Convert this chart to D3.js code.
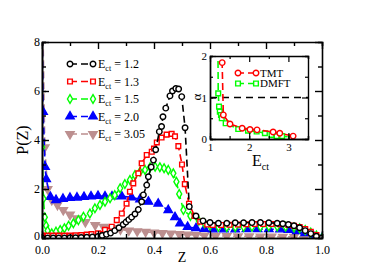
<!DOCTYPE html>
<html>
<head>
<meta charset="utf-8">
<script src="https://cdn.jsdelivr.net/npm/d3@7"></script>
<style>
body { margin: 0; background: #fff; }
svg text { font-family: "Liberation Serif", "DejaVu Serif", serif; }
</style>
</head>
<body>
<div id="chart"></div>
<script>
// main panel: P(Z) for several E_ct
var zBlack = [0.0, 0.02, 0.04, 0.06, 0.08, 0.10, 0.12, 0.14, 0.16, 0.18, 0.20, 0.215, 0.23, 0.245, 0.26, 0.275, 0.29, 0.30, 0.31, 0.32, 0.332, 0.344, 0.356, 0.362, 0.374, 0.38, 0.39, 0.398, 0.406, 0.419, 0.427, 0.432, 0.442, 0.457, 0.466, 0.478, 0.488, 0.499, 0.511, 0.526, 0.55, 0.575, 0.6, 0.63, 0.66, 0.69, 0.72, 0.75, 0.78, 0.81, 0.84, 0.86, 0.88, 0.90, 0.92, 0.94, 0.96, 0.98, 1.0];
var pBlack = [0.0, 0.0, 0.0, 0.0, 0.0, 0.01, 0.01, 0.02, 0.03, 0.04, 0.06, 0.1, 0.15, 0.2, 0.3, 0.42, 0.55, 0.65, 0.75, 0.85, 0.98, 1.16, 1.48, 1.76, 2.16, 2.5, 2.9, 3.18, 3.6, 4.34, 4.55, 4.95, 5.3, 5.8, 6.0, 6.1, 6.08, 5.77, 4.5, 1.28, 0.9, 0.7, 0.63, 0.6, 0.6, 0.62, 0.62, 0.63, 0.63, 0.62, 0.6, 0.58, 0.55, 0.5, 0.42, 0.3, 0.18, 0.07, 0.0];

var zRed = [0.0, 0.02, 0.04, 0.06, 0.08, 0.10, 0.12, 0.14, 0.16, 0.177, 0.2, 0.225, 0.249, 0.267, 0.285, 0.302, 0.314, 0.326, 0.344, 0.356, 0.374, 0.392, 0.40, 0.41, 0.427, 0.445, 0.463, 0.475, 0.487, 0.50, 0.51, 0.525, 0.545, 0.565, 0.59, 0.61, 0.64, 0.67, 0.70, 0.73, 0.76, 0.79, 0.82, 0.85, 0.88, 0.90, 0.92, 0.94, 0.96, 0.98, 1.0];
var pRed = [0.1, 0.1, 0.1, 0.1, 0.1, 0.1, 0.11, 0.12, 0.14, 0.16, 0.19, 0.33, 0.46, 0.73, 1.0, 1.4, 1.89, 2.23, 2.64, 3.05, 3.39, 3.52, 3.65, 3.9, 4.1, 4.22, 4.25, 4.15, 3.75, 3.0, 2.2, 1.4, 0.9, 0.67, 0.55, 0.53, 0.53, 0.54, 0.55, 0.56, 0.57, 0.57, 0.57, 0.56, 0.53, 0.5, 0.45, 0.37, 0.25, 0.12, 0.0];

var zGreen = [0.0, 0.005, 0.01, 0.015, 0.02, 0.035, 0.05, 0.065, 0.08, 0.095, 0.112, 0.13, 0.148, 0.171, 0.189, 0.207, 0.225, 0.243, 0.26, 0.279, 0.296, 0.314, 0.332, 0.35, 0.368, 0.386, 0.404, 0.421, 0.436, 0.451, 0.469, 0.48, 0.49, 0.505, 0.53, 0.56, 0.58, 0.6, 0.63, 0.66, 0.69, 0.72, 0.75, 0.78, 0.81, 0.84, 0.87, 0.90, 0.92, 0.94, 0.96, 0.98, 1.0];
var pGreen = [3.7, 1.6, 0.85, 0.5, 0.3, 0.19, 0.26, 0.33, 0.4, 0.5, 0.6, 0.73, 0.87, 1.0, 1.21, 1.35, 1.48, 1.62, 1.75, 2.03, 2.2, 2.37, 2.57, 2.7, 2.78, 2.89, 2.91, 2.89, 2.85, 2.78, 2.64, 2.3, 1.8, 1.14, 0.9, 0.7, 0.6, 0.5, 0.45, 0.44, 0.44, 0.45, 0.46, 0.46, 0.47, 0.47, 0.46, 0.43, 0.4, 0.33, 0.22, 0.1, 0.0];

var zBlue = [0.0, 0.004, 0.011, 0.015, 0.03, 0.05, 0.075, 0.1, 0.125, 0.15, 0.175, 0.2, 0.225, 0.25, 0.285, 0.32, 0.35, 0.38, 0.415, 0.451, 0.475, 0.493, 0.52, 0.55, 0.58, 0.61, 0.65, 0.69, 0.73, 0.77, 0.81, 0.85, 0.88, 0.91, 0.94, 0.97, 1.0];
var pBlue = [9.0, 5.15, 2.9, 2.4, 1.68, 1.55, 1.6, 1.64, 1.65, 1.68, 1.7, 1.72, 1.7, 1.7, 1.7, 1.66, 1.58, 1.48, 1.4, 1.14, 0.85, 0.6, 0.45, 0.4, 0.37, 0.35, 0.35, 0.35, 0.36, 0.36, 0.36, 0.35, 0.33, 0.28, 0.2, 0.08, 0.0];

var zMauve = [0.002, 0.01, 0.02, 0.035, 0.055, 0.076, 0.1, 0.124, 0.155, 0.19, 0.22, 0.25, 0.28, 0.31, 0.34, 0.37, 0.4, 0.43, 0.46, 0.49, 0.52, 0.55, 0.58, 0.62, 0.66, 0.7, 0.74, 0.78, 0.82, 0.86, 0.9, 0.94, 0.98, 1.0];
var pMauve = [9.5, 3.7, 2.0, 1.55, 1.35, 1.14, 0.95, 0.8, 0.65, 0.53, 0.45, 0.4, 0.35, 0.3, 0.27, 0.25, 0.22, 0.2, 0.18, 0.16, 0.14, 0.12, 0.1, 0.09, 0.08, 0.07, 0.07, 0.06, 0.06, 0.05, 0.05, 0.04, 0.02, 0.0];

var ectLabels = ["1.2", "1.3", "1.5", "2.0", "3.05"];

// inset: alpha vs E_ct
var eTMT = [1.29, 1.31, 1.34, 1.51, 1.82, 2.02, 2.2, 2.61, 2.78, 3.12];
var aTMT = [4.0, 1.84, 0.58, 0.36, 0.26, 0.23, 0.22, 0.17, 0.14, 0.07];
var eDMFT = [1.19, 1.21, 1.23, 1.25, 1.28, 1.3, 1.4, 1.72, 1.97, 2.19, 2.4, 2.57, 2.7, 2.84, 3.08];
var aDMFT = [4.0, 1.1, 0.78, 0.66, 0.58, 0.5, 0.38, 0.24, 0.2, 0.18, 0.14, 0.1, 0.07, 0.07, 0.04];

var svg = d3.select("#chart").append("svg")
	.attr("width", 386)
	.attr("height", 273);

var x = d3.scaleLinear().domain([0, 1]).range([42, 322]);
var y = d3.scaleLinear().domain([0, 8]).range([238, 42]);

svg.append("clipPath").attr("id", "clipMain")
	.append("rect").attr("x", 42).attr("y", 42).attr("width", 280).attr("height", 196);

var series = [
	{z: zBlack, p: pBlack, color: "#000000", sym: d3.symbolCircle, size: 24, fill: "#fff", rot: 0},
	{z: zRed, p: pRed, color: "#ff0000", sym: d3.symbolSquare, size: 22, fill: "#fff", rot: 0},
	{z: zGreen, p: pGreen, color: "#00ff00", sym: d3.symbolDiamond, size: 22, fill: "#fff", rot: 0},
	{z: zBlue, p: pBlue, color: "#0000ff", sym: d3.symbolTriangle, size: 30, fill: "#0000ff", rot: 0},
	{z: zMauve, p: pMauve, color: "#bc8f8f", sym: d3.symbolTriangle, size: 30, fill: "#bc8f8f", rot: 180}
];

var plot = svg.append("g").attr("clip-path", "url(#clipMain)");
var line = d3.line().x(function(d) { return x(d[0]); }).y(function(d) { return y(d[1]); });

series.slice().reverse().forEach(function(s) {
	var pts = s.z.map(function(v, i) { return [v, s.p[i]]; });
	plot.append("path")
		.attr("d", line(pts))
		.attr("fill", "none")
		.attr("stroke", s.color)
		.attr("stroke-width", 1.6)
		.attr("stroke-dasharray", "7,4");
	plot.selectAll(null).data(pts).enter().append("path")
		.attr("d", d3.symbol().type(s.sym).size(s.size))
		.attr("transform", function(d) { return "translate(" + x(d[0]) + "," + y(d[1]) + ") rotate(" + s.rot + ")"; })
		.attr("fill", s.fill)
		.attr("stroke", s.color)
		.attr("stroke-width", 1.4);
});

// main axes, ticks inward
function styleAxis(g) {
	g.select(".domain").attr("stroke-width", 1.6);
	g.selectAll(".tick line").attr("stroke-width", 1.4);
	g.selectAll("text").attr("font-family", "Liberation Serif").attr("font-size", 12).attr("fill", "#000");
}
var xMinor = d3.range(0, 1.01, 0.1);
var yMinor = d3.range(0, 9, 1);

svg.append("g").attr("transform", "translate(0,238)")
	.call(d3.axisBottom(x).tickValues(xMinor).tickSize(-4).tickFormat(""))
	.call(styleAxis);
svg.append("g").attr("transform", "translate(0,238)")
	.call(d3.axisBottom(x).tickValues([0, 0.2, 0.4, 0.6, 0.8, 1.0]).tickSizeInner(-7).tickSizeOuter(0).tickPadding(5).tickFormat(d3.format(".1f")))
	.call(styleAxis)
	.call(function(g) { g.selectAll("text").attr("dy", "0.95em"); });
svg.append("g").attr("transform", "translate(0,42)")
	.call(d3.axisTop(x).tickValues(xMinor).tickSize(-4).tickFormat(""))
	.call(styleAxis)
	.call(function(g) { g.selectAll(".tick").filter(function(d) { return Math.round(d * 10) % 2 === 0; }).select("line").attr("y2", 7); });
svg.append("g").attr("transform", "translate(42,0)")
	.call(d3.axisLeft(y).tickValues(yMinor).tickSize(-4).tickFormat(""))
	.call(styleAxis);
svg.append("g").attr("transform", "translate(42,0)")
	.call(d3.axisLeft(y).tickValues([0, 2, 4, 6, 8]).tickSizeInner(-7).tickSizeOuter(0).tickPadding(3).tickFormat(d3.format("d")))
	.call(styleAxis)
	.call(function(g) { g.selectAll("text").attr("x", -2); g.selectAll(".tick").filter(function(d) { return d === 0; }).select("text").attr("dy", "0.15em"); });
svg.append("g").attr("transform", "translate(322,0)")
	.call(d3.axisRight(y).tickValues(yMinor).tickSize(-4).tickFormat(""))
	.call(styleAxis)
	.call(function(g) { g.selectAll(".tick").filter(function(d) { return d % 2 === 0; }).select("line").attr("x2", -7); });

svg.append("text").attr("x", 182).attr("y", 262).attr("text-anchor", "middle")
	.attr("font-size", 14).text("Z");
svg.append("text").attr("transform", "translate(28,140) rotate(-90)").attr("text-anchor", "middle")
	.attr("font-size", 16).text("P(Z)");

// legend
var legY = d3.scalePoint().domain(ectLabels).range([64, 134]);
series.forEach(function(s, i) {
	var ly = legY(ectLabels[i]);
	svg.append("line").attr("x1", 70).attr("x2", 93).attr("y1", ly).attr("y2", ly)
		.attr("stroke", s.color).attr("stroke-width", 1.6).attr("stroke-dasharray", "7,4");
	[70, 93].forEach(function(lx) {
		svg.append("path")
			.attr("d", d3.symbol().type(s.sym).size(s.size))
			.attr("transform", "translate(" + lx + "," + ly + ") rotate(" + s.rot + ")")
			.attr("fill", s.fill).attr("stroke", s.color).attr("stroke-width", 1.4);
	});
	var t = svg.append("text").attr("x", 98).attr("y", ly + 4).attr("font-size", 12);
	t.append("tspan").text("E");
	t.append("tspan").attr("font-size", 8).attr("dy", 3).text("ct");
	t.append("tspan").attr("dy", -3).text(" = " + ectLabels[i]);
});

// inset
var ix = d3.scaleLinear().domain([1, 3.5]).range([210, 308]);
var iy = d3.scaleLinear().domain([0, 2]).range([139, 56]);

svg.append("rect").attr("x", 210).attr("y", 56).attr("width", 98).attr("height", 83).attr("fill", "#fff");
svg.append("clipPath").attr("id", "clipInset")
	.append("rect").attr("x", 210).attr("y", 56).attr("width", 98).attr("height", 83);
var inset = svg.append("g").attr("clip-path", "url(#clipInset)");

inset.append("line").attr("x1", ix(1)).attr("x2", ix(3.5)).attr("y1", iy(1)).attr("y2", iy(1))
	.attr("stroke", "#000").attr("stroke-width", 1.6).attr("stroke-dasharray", "7,5");

var iline = d3.line().x(function(d) { return ix(d[0]); }).y(function(d) { return iy(d[1]); });
var insetSeries = [
	{e: eDMFT, a: aDMFT, color: "#00ff00", sym: d3.symbolSquare, size: 22, name: "DMFT"},
	{e: eTMT, a: aTMT, color: "#ff0000", sym: d3.symbolCircle, size: 24, name: "TMT"}
];
insetSeries.forEach(function(s) {
	var pts = s.e.map(function(v, i) { return [v, s.a[i]]; });
	inset.append("path").attr("d", iline(pts)).attr("fill", "none")
		.attr("stroke", s.color).attr("stroke-width", 1.6).attr("stroke-dasharray", "7,4");
	inset.selectAll(null).data(pts).enter().append("path")
		.attr("d", d3.symbol().type(s.sym).size(s.size))
		.attr("transform", function(d) { return "translate(" + ix(d[0]) + "," + iy(d[1]) + ")"; })
		.attr("fill", "#fff").attr("stroke", s.color).attr("stroke-width", 1.4);
});

function styleInset(g) {
	g.select(".domain").attr("stroke-width", 1.4);
	g.selectAll(".tick line").attr("stroke-width", 1.2);
	g.selectAll("text").attr("font-family", "Liberation Serif").attr("font-size", 11).attr("fill", "#000");
}
var ixMinor = d3.range(1, 3.51, 0.5);
var iyMinor = d3.range(0, 2.01, 0.5);
svg.append("g").attr("transform", "translate(0,139)")
	.call(d3.axisBottom(ix).tickValues(ixMinor).tickSize(-3).tickFormat(""))
	.call(styleInset);
svg.append("g").attr("transform", "translate(0,139)")
	.call(d3.axisBottom(ix).tickValues([1, 2, 3]).tickSizeInner(-6).tickSizeOuter(0).tickPadding(4).tickFormat(d3.format("d")))
	.call(styleInset)
	.call(function(g) { g.selectAll("text").attr("dy", "0.75em"); });
svg.append("g").attr("transform", "translate(0,56)")
	.call(d3.axisTop(ix).tickValues(ixMinor).tickSize(-3).tickFormat(""))
	.call(styleInset)
	.call(function(g) { g.selectAll(".tick").filter(function(d) { return d % 1 === 0; }).select("line").attr("y2", 6); });
svg.append("g").attr("transform", "translate(210,0)")
	.call(d3.axisLeft(iy).tickValues(iyMinor).tickSize(-3).tickFormat(""))
	.call(styleInset);
svg.append("g").attr("transform", "translate(210,0)")
	.call(d3.axisLeft(iy).tickValues([0, 1, 2]).tickSizeInner(-6).tickSizeOuter(0).tickPadding(2).tickFormat(d3.format("d")))
	.call(styleInset)
	.call(function(g) { g.selectAll("text").attr("x", -3); });
svg.append("g").attr("transform", "translate(308,0)")
	.call(d3.axisRight(iy).tickValues(iyMinor).tickSize(-3).tickFormat(""))
	.call(styleInset)
	.call(function(g) { g.selectAll(".tick").filter(function(d) { return d % 1 === 0; }).select("line").attr("x2", -6); });

svg.append("text").attr("transform", "translate(201,97) rotate(-90)").attr("text-anchor", "middle")
	.attr("font-size", 13).text("α");
var et = svg.append("text").attr("x", 252).attr("y", 166).attr("font-size", 16);
et.append("tspan").text("E");
et.append("tspan").attr("font-size", 10).attr("dy", 4).text("ct");

// inset legend
insetSeries.slice().reverse().forEach(function(s, i) {
	var ly = 73 + i * 10.5;
	svg.append("line").attr("x1", 238).attr("x2", 256).attr("y1", ly).attr("y2", ly)
		.attr("stroke", s.color).attr("stroke-width", 1.5).attr("stroke-dasharray", "6,4");
	[238, 256].forEach(function(lx) {
		svg.append("path").attr("d", d3.symbol().type(s.sym).size(s.size))
			.attr("transform", "translate(" + lx + "," + ly + ")")
			.attr("fill", "#fff").attr("stroke", s.color).attr("stroke-width", 1.4);
	});
	svg.append("text").attr("x", 260).attr("y", ly + 3.5).attr("font-size", 11).text(s.name);
});
</script>
</body>
</html>
